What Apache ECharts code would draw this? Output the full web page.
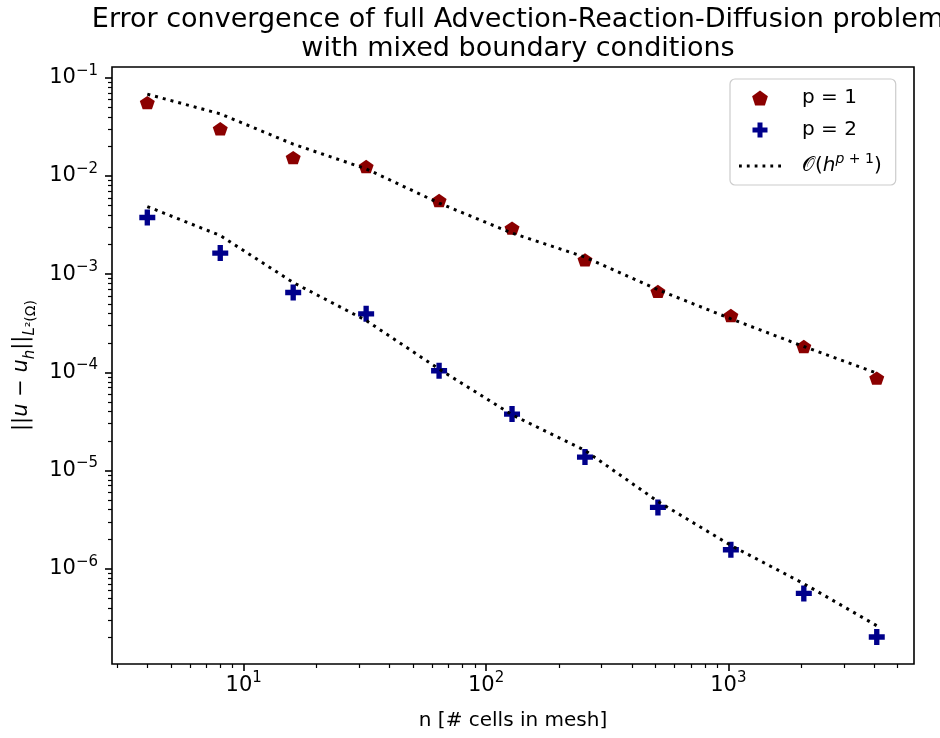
<!DOCTYPE html>
<html><head><meta charset="utf-8">
<script src="https://cdn.jsdelivr.net/npm/echarts@6/dist/echarts.min.js"></script>
<style>html,body{margin:0;padding:0;background:#fff}#c{width:940px;height:738px}</style>
</head><body><div id="c"></div>
<script>
// ---- data ----
const nCells = [4, 8, 16, 32, 64, 128, 256, 512, 1024, 2048, 4096];
const errP1 = [0.0560, 0.0303, 0.01543, 0.0125, 0.00563, 0.002947, 0.001402, 0.000667, 0.0003797, 0.0001835, 0.0000875];
const errP2 = [0.003779, 0.001640, 0.000651, 0.000395, 0.0001038, 3.762e-5, 1.372e-5, 4.21e-6, 1.561e-6, 5.60e-7, 2.016e-7];
const refP1 = [0.0682, 0.04299, 0.02113, 0.01184, 0.0053, 0.002621, 0.001493, 0.000694, 0.0003513, 0.0001835, 0.0000984];
const refP2 = [0.004891, 0.002478, 0.000823, 0.0003377, 0.000108, 3.70e-5, 1.602e-5, 4.84e-6, 1.727e-6, 7.04e-7, 2.63e-7];
const xMajorTicks = [10, 100, 1000];
const xMinorTicks = [3, 4, 5, 6, 7, 8, 9, 20, 30, 40, 50, 60, 70, 80, 90, 200, 300, 400, 500, 600, 700, 800, 900, 2000, 3000, 4000, 5000];
const yMajorTicks = [1e-6, 1e-5, 1e-4, 1e-3, 1e-2, 1e-1];
const yMinorTicks = [2e-7, 3e-7, 4e-7, 5e-7, 6e-7, 7e-7, 8e-7, 9e-7,
  2e-6, 3e-6, 4e-6, 5e-6, 6e-6, 7e-6, 8e-6, 9e-6,
  2e-5, 3e-5, 4e-5, 5e-5, 6e-5, 7e-5, 8e-5, 9e-5,
  2e-4, 3e-4, 4e-4, 5e-4, 6e-4, 7e-4, 8e-4, 9e-4,
  2e-3, 3e-3, 4e-3, 5e-3, 6e-3, 7e-3, 8e-3, 9e-3,
  2e-2, 3e-2, 4e-2, 5e-2, 6e-2, 7e-2, 8e-2, 9e-2];
const seriesNames = ['p = 1', 'p = 2', 'ref'];

const F = 'DejaVu Sans';
const X_MIN = 2.86, X_MAX = 5835, Y_MIN = 1.07e-7, Y_MAX = 0.129;
const pentagon = 'path://M0,-1 L0.951,-0.309 L0.588,0.809 L-0.588,0.809 L-0.951,-0.309 Z';
const plus = 'path://M-1,-3 L1,-3 L1,-1 L3,-1 L3,1 L1,1 L1,3 L-1,3 L-1,1 L-3,1 L-3,-1 L-1,-1 Z';
const dottedIcon = 'path://M0,0 h3 v3 h-3 Z M8.4,0 h3 v3 h-3 Z M16.8,0 h3 v3 h-3 Z M25.2,0 h3 v3 h-3 Z M33.6,0 h3 v3 h-3 Z M42,0 h3 v3 h-3 Z';

const pair = (xs, ys) => xs.map((x, i) => [x, ys[i]]);
const supRich = {
  b: { fontFamily: F, fontSize: 21, lineHeight: 21, color: '#000', verticalAlign: 'bottom' },
  s: { fontFamily: F, fontSize: 15, lineHeight: 15, color: '#000', padding: [0, 0, 10, 0], verticalAlign: 'bottom' }
};
const expFmt = v => {
  const e = Math.round(Math.log10(v));
  return '{b|10}{s|' + (e < 0 ? '\u2212' + (-e) : e) + '}';
};

const chart = echarts.init(document.getElementById('c'), null, { renderer: 'canvas' });
chart.setOption({
  animation: false,
  backgroundColor: '#fff',
  title: {
    text: 'Error convergence of full Advection-Reaction-Diffusion problem\nwith mixed boundary conditions',
    left: 513, top: 0, textAlign: 'center',
    textStyle: { fontFamily: F, fontSize: 27, fontWeight: 'normal', color: '#000', lineHeight: 29 }
  },
  grid: { left: 112, right: 26, top: 67, bottom: 74, show: true, borderColor: '#000', borderWidth: 1.6, backgroundColor: 'transparent' },
  legend: {
    left: 730, top: 79, orient: 'vertical',
    padding: [9, 14, 9, 9], itemGap: 12, itemWidth: 42, itemHeight: 15,
    backgroundColor: '#fff', borderColor: '#cccccc', borderWidth: 1.2, borderRadius: 5,
    data: [{ name: seriesNames[0], icon: pentagon }, { name: seriesNames[1], icon: plus }, { name: seriesNames[2], icon: dottedIcon }],
    formatter: name => name === 'ref' ? '{o|\uD835\uDCAA}{n|(}{i|h}{si|p}{s| + 1}{n|)}' : name,
    textStyle: {
      fontFamily: F, fontSize: 20, color: '#000', padding: [0, 0, 0, 16],
      rich: {
        o: { fontFamily: F, fontSize: 20, lineHeight: 20, verticalAlign: 'bottom', padding: [0, 0, 0, 0] },
        n: { fontFamily: F, fontSize: 20, lineHeight: 20, verticalAlign: 'bottom' },
        i: { fontFamily: F, fontSize: 20, lineHeight: 20, fontStyle: 'italic', verticalAlign: 'bottom' },
        si: { fontFamily: F, fontSize: 14, lineHeight: 14, fontStyle: 'italic', padding: [0, 0, 10, 0], verticalAlign: 'bottom' },
        s: { fontFamily: F, fontSize: 14, lineHeight: 14, padding: [0, 0, 10, 0], verticalAlign: 'bottom' }
      }
    }
  },
  xAxis: [{
    type: 'log', logBase: 10, min: X_MIN, max: X_MAX, gridIndex: 0, position: 'bottom',
    name: 'n [# cells in mesh]', nameLocation: 'middle', nameGap: 47,
    nameTextStyle: { fontFamily: F, fontSize: 20, color: '#000' },
    axisLine: { show: false },
    axisTick: { show: true, inside: false, length: 7, lineStyle: { color: '#000', width: 1.6 }, customValues: xMajorTicks },
    axisLabel: { show: true, margin: 11, formatter: expFmt, rich: supRich, customValues: xMajorTicks },
    splitLine: { show: false }, minorTick: { show: false }
  }, {
    type: 'log', logBase: 10, min: X_MIN, max: X_MAX, gridIndex: 0, position: 'bottom',
    axisLine: { show: false },
    axisTick: { show: true, inside: false, length: 4, lineStyle: { color: '#000', width: 1.2 }, customValues: xMinorTicks },
    axisLabel: { show: false }, splitLine: { show: false }
  }],
  yAxis: [{
    type: 'log', logBase: 10, min: Y_MIN, max: Y_MAX, gridIndex: 0, position: 'left',
    name: '{n|||}{i|u}{n| \u2212 }{i|u}{sbi|h}{n|||}{sbi|L}{sb|\u00b2(\u03a9)}',
    nameLocation: 'middle', nameGap: 74, nameRotate: 90,
    nameTextStyle: {
      fontFamily: F, fontSize: 21, color: '#000',
      rich: {
        n: { fontFamily: F, fontSize: 21, lineHeight: 21, padding: [0, 0, 6, 0], verticalAlign: 'bottom' },
        i: { fontFamily: F, fontSize: 21, lineHeight: 21, fontStyle: 'italic', padding: [0, 0, 6, 0], verticalAlign: 'bottom' },
        sb: { fontFamily: F, fontSize: 14, lineHeight: 14, verticalAlign: 'bottom' },
        sbi: { fontFamily: F, fontSize: 15, lineHeight: 15, fontStyle: 'italic', verticalAlign: 'bottom' }
      }
    },
    axisLine: { show: false },
    axisTick: { show: true, inside: false, length: 7, lineStyle: { color: '#000', width: 1.6 }, customValues: yMajorTicks },
    axisLabel: { show: true, margin: 14, formatter: expFmt, rich: supRich, customValues: yMajorTicks },
    splitLine: { show: false }, minorTick: { show: false }
  }, {
    type: 'log', logBase: 10, min: Y_MIN, max: Y_MAX, gridIndex: 0, position: 'left',
    axisLine: { show: false },
    axisTick: { show: true, inside: false, length: 4, lineStyle: { color: '#000', width: 1.2 }, customValues: yMinorTicks },
    axisLabel: { show: false }, splitLine: { show: false }
  }],
  series: [{
    name: seriesNames[0], type: 'scatter', xAxisIndex: 0, yAxisIndex: 0,
    data: pair(nCells, errP1), symbol: pentagon, symbolSize: [15, 14], symbolKeepAspect: true,
    itemStyle: { color: '#8b0000', opacity: 1 }, z: 2, silent: true
  }, {
    name: seriesNames[1], type: 'scatter', xAxisIndex: 0, yAxisIndex: 0,
    data: pair(nCells, errP2), symbol: plus, symbolSize: 16, symbolKeepAspect: true,
    itemStyle: { color: '#00008b', opacity: 1 }, z: 2, silent: true
  }, {
    name: seriesNames[2], type: 'line', xAxisIndex: 0, yAxisIndex: 0,
    data: pair(nCells, refP1), showSymbol: false, symbol: 'none',
    lineStyle: { color: '#000', width: 3, type: [3, 5], cap: 'butt' },
    itemStyle: { color: '#000' }, z: 3, silent: true
  }, {
    name: seriesNames[2], type: 'line', xAxisIndex: 0, yAxisIndex: 0,
    data: pair(nCells, refP2), showSymbol: false, symbol: 'none',
    lineStyle: { color: '#000', width: 3, type: [3, 5], cap: 'butt' },
    itemStyle: { color: '#000' }, z: 3, silent: true
  }]
});
</script>
</body></html>
